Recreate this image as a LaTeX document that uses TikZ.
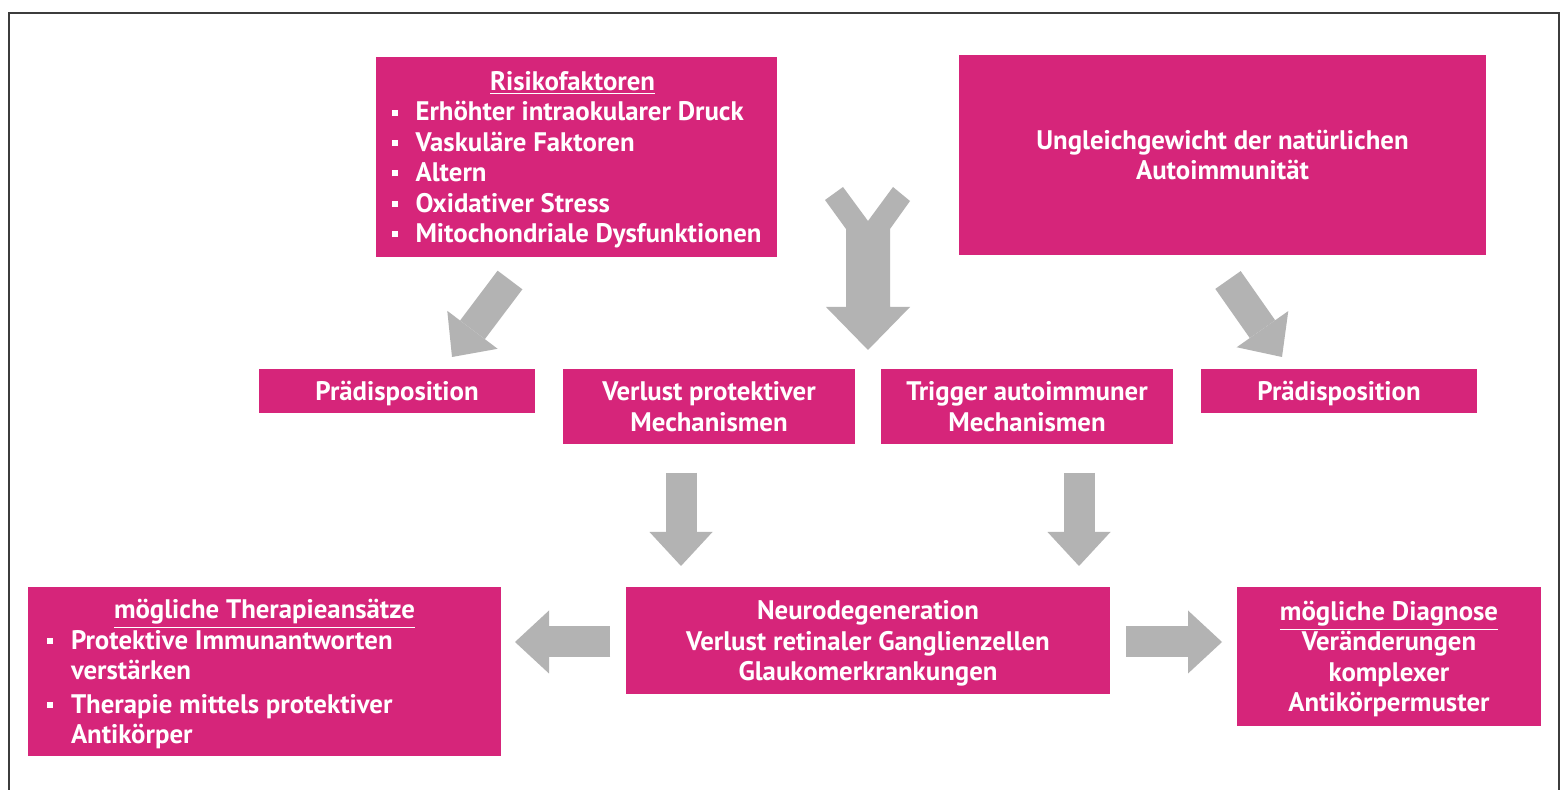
\documentclass[tikz,border=0pt]{standalone}
\usepackage{fontspec}
\setmainfont{PT Sans}
\usetikzlibrary{arrows.meta}
\definecolor{mag}{HTML}{D6257A}
\definecolor{arrowgray}{HTML}{B3B3B3}
\definecolor{framecol}{HTML}{3C3C3C}
\newcommand\boxfont{\bfseries\fontsize{13.4pt}{15.2pt}\selectfont}
\newcommand\bulletsq{\rule[0.2em]{3pt}{3pt}}
\newcommand\bl{\makebox[12pt][l]{\bulletsq}}
\newcommand\cl{\hspace*{12pt}}
\tikzset{
  box/.style={fill=mag, text=white, inner sep=0pt, font=\boxfont, align=center, text depth=0pt},
  listbox/.style={box, align=left},
  barrow/.style={draw=arrowgray, line width=15.5pt,
    -{Triangle[length=17pt,width=31.5pt,line width=0pt]}},
}
\begin{document}
\begin{tikzpicture}[x=0.5pt,y=-0.5pt]
\useasboundingbox (0,0) rectangle (1564,790);
\fill[white] (0,0) rectangle (1564,790);
\draw[framecol, line width=1pt] (9,800) -- (9,13) -- (1559,13) -- (1559,800);

% boxes
\node[listbox, minimum width=200.5pt, minimum height=100pt] (risk) at (576.5,157) {%
  \makebox[181pt][c]{\underline{Risikofaktoren}}\\
  \bl Erhöhter intraokularer Druck\\
  \bl Vaskuläre Faktoren\\
  \bl Altern\\
  \bl Oxidativer Stress\\
  \bl Mitochondriale Dysfunktionen};
\node[box, minimum width=263.5pt, minimum height=100pt] (ungl) at (1222.5,155)
  {Ungleichgewicht der natürlichen\\Autoimmunität};
\node[box, minimum width=138pt, minimum height=22pt] (pradL) at (397,391) {Prädisposition};
\node[box, minimum width=146pt, minimum height=37.5pt] (verlust) at (709,406.5)
  {Verlust protektiver\\Mechanismen};
\node[box, minimum width=146pt, minimum height=37.5pt] (trigger) at (1027,406.5)
  {Trigger autoimmuner\\Mechanismen};
\node[box, minimum width=138pt, minimum height=22pt] (pradR) at (1339,391) {Prädisposition};
\node[box, minimum width=242pt, minimum height=53.5pt] (neuro) at (868,640.5)
  {Neurodegeneration\\Verlust retinaler Ganglienzellen\\Glaukomerkrankungen};
\node[listbox, minimum width=236.5pt, minimum height=84.5pt] (ther) at (264.5,671.5) {%
  \makebox[217.5pt][c]{\underline{mögliche Therapieansätze}}\\
  \bl Protektive Immunantworten\\
  \cl verstärken\\[1.5pt]
  \bl Therapie mittels protektiver\\
  \cl Antikörper};
\node[box, minimum width=152pt, minimum height=69.5pt] (diag) at (1389,656.5)
  {\underline{mögliche Diagnose}\\Veränderungen\\komplexer\\Antikörpermuster};

% arrow end points
\coordinate (aLs) at (510,280);  \coordinate (aLe) at (452,357);
\coordinate (aRs) at (1228,280); \coordinate (aRe) at (1282,357);
\coordinate (v1s) at (681,473);  \coordinate (v1e) at (681,566);
\coordinate (v2s) at (1079,473); \coordinate (v2e) at (1079,566);
\coordinate (hLs) at (610,642);  \coordinate (hLe) at (515,642);
\coordinate (hRs) at (1126,642); \coordinate (hRe) at (1222,642);

\draw[barrow] (aLs) -- (aLe);
\draw[barrow] (aRs) -- (aRe);
\draw[barrow] (v1s) -- (v1e);
\draw[barrow] (v2s) -- (v2e);
\draw[barrow] (hLs) -- (hLe);
\draw[barrow] (hRs) -- (hRe);

% merging Y arrow
\fill[arrowgray] (825,200) -- (843,187) -- (868,221) -- (893,187) -- (910,201)
  -- (890,229) -- (890,307) -- (910,307) -- (868,350) -- (826,307) -- (846,307)
  -- (846,229) -- cycle;
\end{tikzpicture}
\end{document}
